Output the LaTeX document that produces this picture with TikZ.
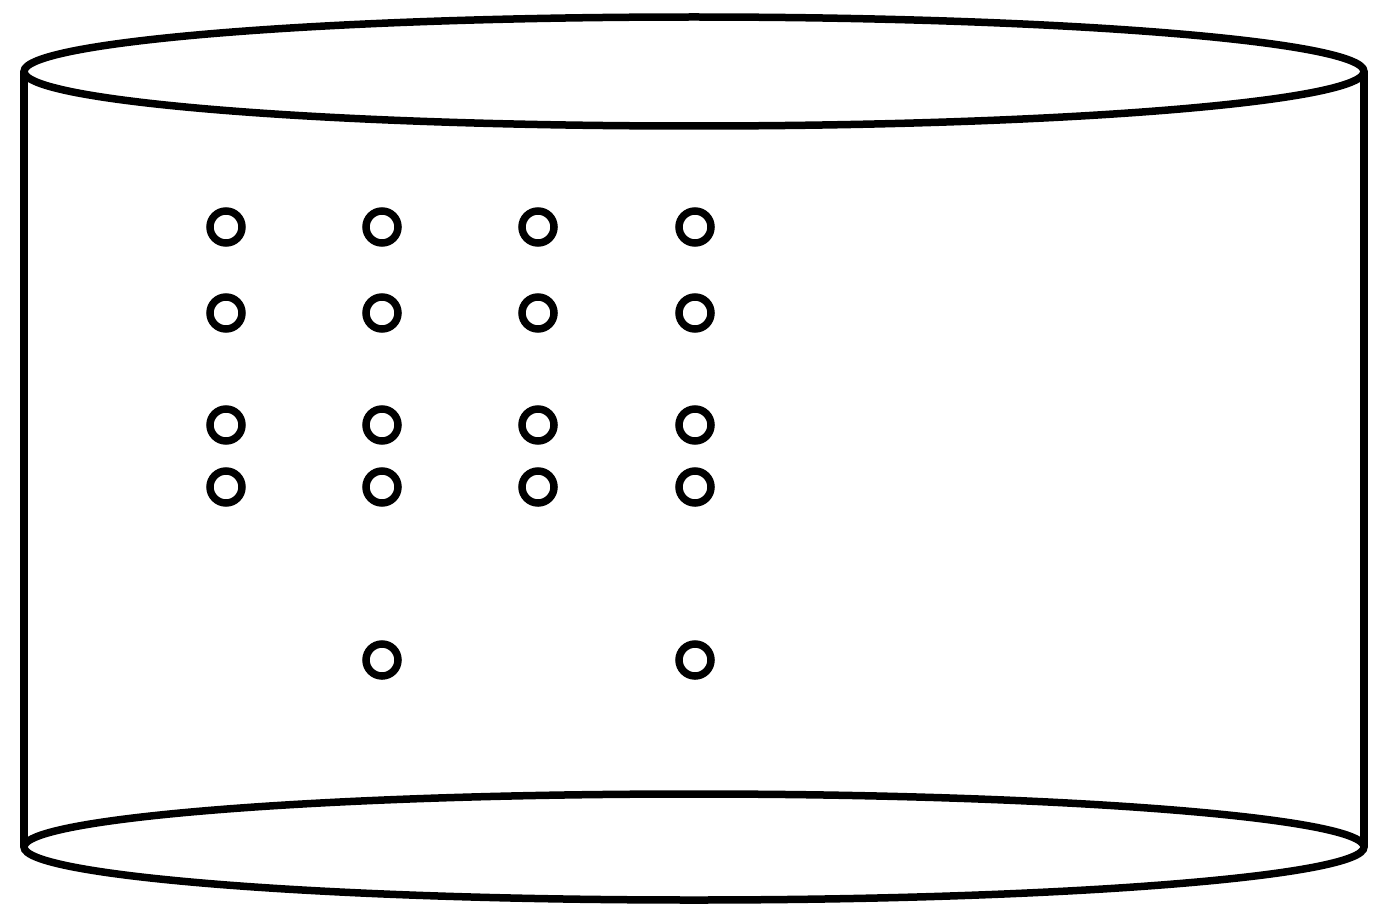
\documentclass[tikz,border=0pt]{standalone}
\usepackage{tikz}
\usetikzlibrary{positioning}
\tikzset{
wall/.style = {draw, line width=0.075cm, line join=miter},
hole/.style = {draw, circle, line width=0.075cm, minimum size=0.32cm, inner sep=0pt}
}

\begin{document}
\begin{tikzpicture}
    \useasboundingbox (0,0) rectangle (13.8,9.2);
    % cylinder
    \coordinate (topc) at (6.94,8.485);
    \coordinate (botc) at (6.94,0.73);
    \coordinate (tl) at (0.24,8.485);
    \coordinate (tr) at (13.64,8.485);
    \coordinate (bl) at (0.24,0.73);
    \coordinate (br) at (13.64,0.73);
    \draw [wall] (topc) ellipse [x radius=6.70, y radius=0.545];
    \draw [wall] (botc) ellipse [x radius=6.70, y radius=0.53];
    \draw [wall] (tl) -- (bl);
    \draw [wall] (tr) -- (br);
    % holes
    \foreach \c/\x in {a/2.26, b/3.82, c/5.38, d/6.95} {
      \foreach \r/\y in {1/6.93, 2/6.07, 3/4.95, 4/4.33} {
        \node [hole] (h\c\r) at (\x,\y) {};
      }
    }
    \node [hole] (hb5) at (3.82,2.60) {};
    \node [hole] (hd5) at (6.95,2.60) {};
\end{tikzpicture}
\end{document}
